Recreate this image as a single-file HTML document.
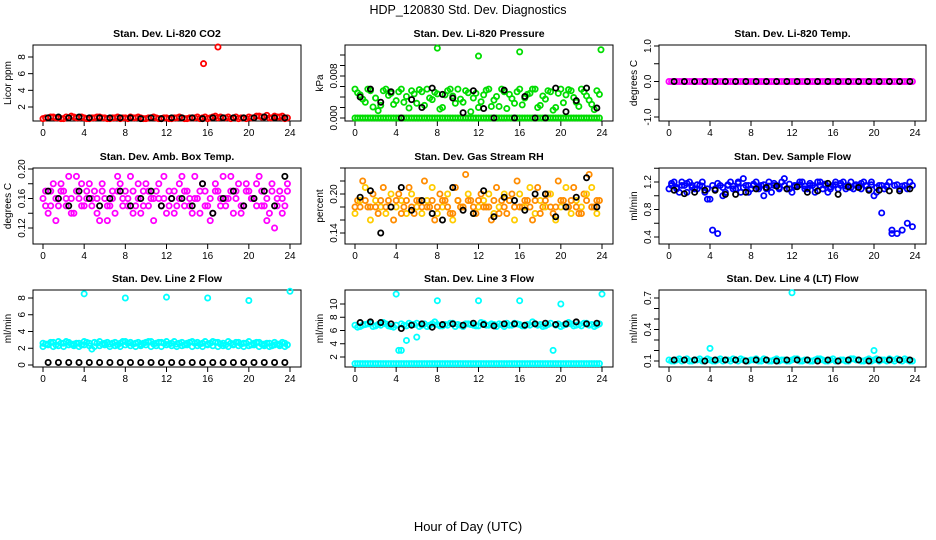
<!DOCTYPE html>
<html><head><meta charset="utf-8"><style>
body{margin:0;background:#fff;}
svg{display:block;font-family:"Liberation Sans",sans-serif;}
</style></head><body>
<svg id="c" width="936" height="540" viewBox="0 0 936 540">
<text x="468" y="14" text-anchor="middle" font-size="12.5">HDP_120830  Std. Dev. Diagnostics</text>
<text x="468" y="531" text-anchor="middle" font-size="13">Hour of Day (UTC)</text>
</svg>
<script>
// ---- data (hours: colored series at i*0.5+0.25 (or i*0.5 for 2nd set), black series at i+0.5) ----
const xTicks = [0,4,8,12,16,20,24];
const co2Vals = [0.7,0.8,0.7,0.6,0.8,0.9,0.7,0.8,0.6,0.7,0.8,0.7,0.6,0.7,0.8,0.7,0.6,0.7,0.8,0.6,0.7,0.8,0.6,0.7,0.6,0.7,0.8,0.6,0.7,0.7,0.6,0.8,0.7,0.9,0.8,0.7,0.6,0.8,0.7,0.6,0.7,0.9,0.8,1.0,0.7,0.8,0.9,0.7];
const co2Vals2 = [0.6,0.7,0.8,0.7,0.6,0.7,0.8,0.7,0.7,0.6,0.7,0.8,0.7,0.6,0.7,0.6,0.7,0.8,0.7,0.7,0.6,0.7,0.7,0.6,0.7,0.6,0.7,0.7,0.6,0.7,0.8,0.7,0.6,0.8,0.7,0.7,0.8,0.7,0.6,0.7,0.8,0.7,0.9,0.8,0.7,0.9,0.8,0.6];
const co2Blk = [0.7,0.8,0.7,0.8,0.7,0.7,0.7,0.7,0.7,0.6,0.7,0.6,0.7,0.7,0.7,0.6,0.7,0.7,0.7,0.7,0.7,0.8,0.7,0.7];
const co2Out = [[15.6,7.2],[17.0,9.2]];
const presVals = [0.0048,0.0036,0.0055,0.0021,0.0014,0.0052,0.0043,0.0026,0.0050,0.0030,0.0019,0.0046,0.0054,0.0024,0.0038,0.0049,0.0017,0.0044,0.0055,0.0028,0.0036,0.0052,0.0012,0.0047,0.0031,0.0053,0.0022,0.0041,0.0055,0.0018,0.0037,0.0050,0.0025,0.0045,0.0055,0.0020,0.0042,0.0052,0.0015,0.0047,0.0029,0.0054,0.0039,0.0022,0.0050,0.0034,0.0016,0.0045];
const presVals2 = [0.0055,0.0044,0.0030,0.0052,0.0038,0.0024,0.0055,0.0047,0.0033,0.0055,0.0041,0.0052,0.0028,0.0050,0.0055,0.0035,0.0046,0.0020,0.0052,0.0042,0.0055,0.0030,0.0048,0.0038,0.0020,0.0044,0.0055,0.0034,0.0022,0.0050,0.0045,0.0028,0.0055,0.0038,0.0047,0.0055,0.0024,0.0036,0.0050,0.0020,0.0055,0.0044,0.0052,0.0030,0.0055,0.0042,0.0026,0.0052];
const presZero = [0,0,0,0,0,0,0,0,0,0,0,0,0,0,0,0,0,0,0,0,0,0,0,0,0,0,0,0,0,0,0,0,0,0,0,0,0,0,0,0,0,0,0,0,0,0,0,0];
const presBlk = [0.0040,0.0055,0.0030,0.0050,0.0,0.0035,0.0020,0.0057,0.0045,0.0038,0.0010,0.0052,0.0018,0.0,0.0053,0.0,0.0041,0.0,0.0,0.0057,0.0012,0.0033,0.0057,0.0019];
const presOut = [[8.0,0.0133],[12.0,0.0118],[16.0,0.0126],[23.9,0.0130]];
const tempVals = [0,0,0,0,0,0,0,0,0,0,0,0,0,0,0,0,0,0,0,0,0,0,0,0,0,0,0,0,0,0,0,0,0,0,0,0,0,0,0,0,0,0,0,0,0,0,0,0];
const tempBlk = [0,0,0,0,0,0,0,0,0,0,0,0,0,0,0,0,0,0,0,0,0,0,0,0];
const ambVals = [0.15,0.17,0.13,0.18,0.16,0.14,0.19,0.15,0.17,0.16,0.14,0.18,0.13,0.17,0.19,0.15,0.16,0.14,0.18,0.17,0.15,0.13,0.16,0.19,0.17,0.14,0.18,0.15,0.16,0.19,0.14,0.17,0.13,0.18,0.16,0.15,0.19,0.17,0.14,0.18,0.16,0.15,0.17,0.13,0.18,0.16,0.14,0.17];
const ambVals2 = [0.16,0.14,0.18,0.15,0.17,0.19,0.14,0.16,0.15,0.18,0.17,0.13,0.16,0.15,0.14,0.18,0.17,0.19,0.15,0.14,0.18,0.16,0.17,0.15,0.14,0.16,0.15,0.19,0.17,0.14,0.16,0.18,0.15,0.14,0.17,0.19,0.16,0.14,0.18,0.15,0.17,0.16,0.19,0.15,0.14,0.12,0.17,0.15];
const ambVals3 = [0.17,0.15,0.16,0.17,0.15,0.16,0.17,0.18,0.16,0.15,0.16,0.17,0.15,0.16,0.17,0.16,0.15,0.17,0.16,0.15,0.17,0.16,0.18,0.16,0.15,0.17,0.16,0.17,0.15,0.16,0.17,0.15,0.16,0.17,0.15,0.16,0.17,0.16,0.15,0.17,0.16,0.18,0.15,0.16,0.17,0.15,0.16,0.18];
const ambBlk = [0.17,0.16,0.15,0.17,0.16,0.15,0.16,0.17,0.15,0.16,0.17,0.15,0.16,0.16,0.15,0.18,0.14,0.16,0.17,0.15,0.16,0.17,0.15,0.19];
const rhVals = [0.19,0.22,0.18,0.20,0.17,0.21,0.19,0.16,0.20,0.18,0.21,0.17,0.19,0.22,0.18,0.16,0.20,0.19,0.17,0.21,0.18,0.23,0.19,0.17,0.20,0.18,0.16,0.21,0.19,0.17,0.20,0.22,0.18,0.19,0.16,0.21,0.18,0.20,0.17,0.22,0.19,0.18,0.21,0.17,0.20,0.23,0.18,0.19];
const rhVals2 = [0.17,0.19,0.21,0.16,0.19,0.18,0.17,0.20,0.18,0.19,0.17,0.20,0.18,0.17,0.19,0.21,0.17,0.18,0.20,0.16,0.19,0.18,0.20,0.17,0.18,0.19,0.20,0.17,0.18,0.20,0.19,0.16,0.20,0.18,0.21,0.17,0.19,0.18,0.20,0.16,0.18,0.21,0.17,0.19,0.18,0.20,0.21,0.17];
const rhVals3 = [0.18,0.18,0.19,0.18,0.18,0.19,0.18,0.18,0.19,0.17,0.19,0.18,0.19,0.18,0.18,0.19,0.18,0.19,0.18,0.17,0.19,0.18,0.19,0.18,0.19,0.18,0.18,0.19,0.17,0.18,0.19,0.18,0.18,0.19,0.18,0.19,0.17,0.19,0.18,0.18,0.19,0.18,0.19,0.18,0.17,0.19,0.18,0.19];
const rhBlk = [0.195,0.205,0.14,0.18,0.21,0.175,0.19,0.17,0.16,0.21,0.175,0.17,0.205,0.165,0.195,0.19,0.175,0.20,0.20,0.165,0.18,0.195,0.225,0.18];
const flowVals = [1.15,1.10,1.20,1.05,1.15,1.10,1.20,0.95,0.50,0.45,1.00,1.15,1.10,1.20,1.25,1.05,1.15,1.10,1.00,1.20,1.15,1.10,1.25,1.10,1.15,1.20,1.10,1.15,1.05,1.20,1.15,1.10,1.20,1.15,1.10,1.20,1.15,1.10,1.15,1.20,1.05,0.75,1.15,0.50,0.45,0.50,1.10,0.55];
const flowVals2 = [1.10,1.20,1.05,1.15,1.20,1.10,1.15,1.05,0.95,1.10,1.15,1.05,1.20,1.10,1.05,1.15,1.10,1.20,1.15,1.10,1.05,1.15,1.20,1.10,1.05,1.15,1.20,1.10,1.15,1.20,1.10,1.05,1.15,1.10,1.20,1.15,1.10,1.15,1.20,1.10,1.00,1.15,1.10,1.20,1.15,1.10,1.15,1.20];
const flowVals3 = [1.18,1.12,1.15,1.18,1.12,1.16,1.14,1.10,1.15,1.18,1.12,1.16,1.14,1.18,1.12,1.15,1.17,1.13,1.16,1.14,1.18,1.12,1.15,1.17,1.13,1.16,1.14,1.18,1.12,1.15,1.17,1.13,1.16,1.18,1.14,1.12,1.16,1.18,1.14,1.16,1.12,1.15,1.13,0.45,1.16,1.14,0.60,1.15];
const flowBlk = [1.08,1.03,1.05,1.08,1.08,1.02,1.02,1.05,1.10,1.12,1.14,1.10,1.13,1.05,1.07,1.18,1.02,1.13,1.12,1.08,1.08,1.07,1.07,1.10];
const l2Vals = [2.5,2.7,2.4,2.6,2.8,2.5,2.6,2.4,2.7,1.9,2.6,2.5,2.7,2.6,2.4,2.8,2.6,2.5,2.7,2.6,2.8,2.5,2.7,2.6,2.5,2.8,2.6,2.4,2.7,2.6,2.5,2.8,2.6,2.7,2.5,2.4,2.6,2.7,2.5,2.6,2.4,2.7,2.5,2.6,2.3,2.5,2.7,2.4];
const l2Vals2 = [2.2,2.4,2.2,2.3,2.2,2.4,2.3,2.2,2.4,2.3,2.2,2.3,2.4,2.2,2.3,2.2,2.4,2.3,2.2,2.3,2.4,2.2,2.3,2.2,2.4,2.3,2.2,2.3,2.4,2.2,2.3,2.2,2.4,2.3,2.2,2.3,2.2,2.4,2.3,2.2,2.3,2.4,2.2,2.3,2.2,2.4,2.3,2.2];
const l2Vals3 = [2.6,2.5,2.7,2.8,2.6,2.7,2.5,2.6,2.8,2.6,2.7,2.8,2.6,2.5,2.7,2.6,2.8,2.7,2.6,2.5,2.7,2.8,2.6,2.7,2.8,2.6,2.5,2.7,2.6,2.8,2.7,2.6,2.5,2.8,2.7,2.6,2.8,2.5,2.7,2.6,2.8,2.6,2.7,2.5,2.6,2.7,2.5,2.6];
const l2Blk = [0.3,0.3,0.3,0.3,0.3,0.3,0.3,0.3,0.3,0.3,0.3,0.3,0.3,0.3,0.3,0.3,0.3,0.3,0.3,0.3,0.3,0.3,0.3,0.3];
const l2Out = [[4.0,8.5],[8.0,8.0],[12.0,8.1],[16.0,8.0],[20.0,7.7],[24.0,8.8]];
const l3Vals = [6.5,6.8,7.0,6.6,6.9,7.2,6.7,6.5,3.0,6.8,7.1,6.9,6.6,7.0,6.8,7.3,6.7,6.9,7.1,6.6,6.8,7.0,6.9,6.7,7.2,6.8,7.0,6.6,6.9,7.1,6.8,7.0,6.7,6.9,7.3,6.8,6.6,6.9,3.0,7.0,6.8,7.2,6.7,6.9,7.1,6.8,6.6,7.0];
const l3Vals2 = [6.8,6.6,6.9,7.1,6.7,6.8,7.0,6.6,6.8,7.0,6.7,6.9,7.1,6.8,6.6,7.0,6.9,6.7,6.8,7.1,6.9,6.6,7.0,6.8,6.7,7.1,6.8,6.9,7.0,6.6,6.8,7.1,6.9,6.7,6.8,7.0,6.9,6.7,7.1,6.8,6.6,6.9,7.0,6.8,6.7,7.1,6.9,6.8];
const l3Low = [1.0,1.0,1.0,1.0,1.0,1.0,1.0,1.0,1.0,1.0,1.0,1.0,1.0,1.0,1.0,1.0,1.0,1.0,1.0,1.0,1.0,1.0,1.0,1.0,1.0,1.0,1.0,1.0,1.0,1.0,1.0,1.0,1.0,1.0,1.0,1.0,1.0,1.0,1.0,1.0,1.0,1.0,1.0,1.0,1.0,1.0,1.0,1.0];
const l3Blk = [7.2,7.3,7.2,7.0,6.3,6.8,7.0,6.5,6.9,7.0,6.8,7.1,6.9,6.7,7.0,7.0,6.8,7.0,7.1,6.9,7.0,7.3,7.0,7.1];
const l3Out = [[4.0,11.5],[8.0,10.5],[12.0,10.5],[16.0,10.5],[20.0,10.0],[24.0,11.5],[4.5,3.0],[5.0,4.5],[6.0,5.0]];
const l4Vals = [0.10,0.11,0.10,0.12,0.10,0.11,0.10,0.12,0.10,0.11,0.10,0.11,0.12,0.10,0.11,0.10,0.11,0.10,0.12,0.10,0.11,0.10,0.11,0.10,0.12,0.10,0.11,0.10,0.11,0.12,0.10,0.11,0.10,0.11,0.10,0.12,0.11,0.10,0.11,0.10,0.12,0.11,0.10,0.11,0.12,0.10,0.11,0.10];
const l4Vals2 = [0.11,0.10,0.12,0.11,0.10,0.11,0.12,0.10,0.11,0.10,0.12,0.11,0.10,0.11,0.12,0.10,0.11,0.12,0.10,0.11,0.10,0.12,0.11,0.10,0.11,0.12,0.10,0.11,0.10,0.12,0.11,0.10,0.12,0.10,0.11,0.10,0.12,0.11,0.10,0.12,0.11,0.10,0.11,0.12,0.10,0.11,0.12,0.10];
const l4Blk = [0.11,0.11,0.11,0.10,0.11,0.11,0.11,0.10,0.11,0.11,0.10,0.11,0.11,0.11,0.10,0.11,0.10,0.11,0.11,0.10,0.11,0.11,0.11,0.11];
const l4Out = [[12.0,0.75],[4.0,0.22],[20.0,0.20]];

const NS = 'http://www.w3.org/2000/svg';
const svg = document.getElementById('c');
function mk(tag, attrs, parent){const e=document.createElementNS(NS,tag);for(const k in attrs)e.setAttribute(k,attrs[k]);(parent||svg).appendChild(e);return e;}

const cols=[[33,301],[345,613],[659,926]];
const rows=[[45,121],[168,244],[290,367]];
const panels=[
 {name:'co2',title:'Stan. Dev. Li-820 CO2',ylab:'Licor ppm',r:0,c:0,anch:[[2,107],[8,57]],ticks:[2,4,6,8],lab:['2','4','6','8'],series:[[co2Vals,'#ff0000'],[co2Vals2,'#ff0000',3],[co2Blk,'#000',1],[co2Out,'#ff0000',2]]},
 {name:'pressure',title:'Stan. Dev. Li-820 Pressure',ylab:'kPa',r:0,c:1,anch:[[0,118],[0.008,76]],ticks:[0,0.002,0.004,0.006,0.008,0.010,0.012],lab:['0.000','','','','0.008','',''],series:[[presZero,'#00dd00'],[presZero,'#00dd00',3],[presVals,'#00dd00'],[presVals2,'#00dd00',3],[presBlk,'#000',1],[presOut,'#00dd00',2]]},
 {name:'temp',title:'Stan. Dev. Li-820 Temp.',ylab:'degrees C',r:0,c:2,anch:[[-1,117],[1,46]],ticks:[-1,-0.5,0,0.5,1],lab:['-1.0','','0.0','','1.0'],series:[[tempVals,'#ff00ff'],[tempVals,'#ff00ff',3],[tempBlk,'#000',1]]},
 {name:'ambbox',title:'Stan. Dev. Amb. Box Temp.',ylab:'degrees C',r:1,c:0,anch:[[0.12,228],[0.20,169]],ticks:[0.12,0.14,0.16,0.18,0.20],lab:['0.12','','0.16','','0.20'],series:[[ambVals,'#ff00ff'],[ambVals2,'#ff00ff',3],[ambVals3,'#ff00ff'],[ambBlk,'#000',1]]},
 {name:'rh',title:'Stan. Dev. Gas Stream RH',ylab:'percent',r:1,c:1,anch:[[0.14,233],[0.20,194]],ticks:[0.14,0.16,0.18,0.20,0.22,0.24],lab:['0.14','','','0.20','',''],series:[[rhVals,'#ff8c00'],[rhVals2,'#ffcc00',3],[rhVals3,'#ff8c00',3],[rhBlk,'#000',1]]},
 {name:'sampleflow',title:'Stan. Dev. Sample Flow',ylab:'ml/min',r:1,c:2,anch:[[0.4,237],[1.2,182]],ticks:[0.4,0.6,0.8,1.0,1.2,1.4],lab:['0.4','','0.8','','1.2',''],series:[[flowVals,'#0000ff'],[flowVals2,'#0000ff',3],[flowVals3,'#0000ff'],[flowBlk,'#000',1]]},
 {name:'line2',title:'Stan. Dev. Line 2 Flow',ylab:'ml/min',r:2,c:0,anch:[[0,365],[8,298]],ticks:[0,2,4,6,8],lab:['0','2','4','6','8'],series:[[l2Vals,'#00ffff'],[l2Vals2,'#00ffff',3],[l2Vals3,'#00ffff',3],[l2Blk,'#000',1],[l2Out,'#00ffff',2]]},
 {name:'line3',title:'Stan. Dev. Line 3 Flow',ylab:'ml/min',r:2,c:1,anch:[[2,357],[10,304]],ticks:[2,4,6,8,10],lab:['2','4','6','8','10'],series:[[l3Vals,'#00ffff'],[l3Vals2,'#00ffff',3],[l3Low,'#00ffff'],[l3Low,'#00ffff',3],[l3Blk,'#000',1],[l3Out,'#00ffff',2]]},
 {name:'line4',title:'Stan. Dev. Line 4 (LT) Flow',ylab:'ml/min',r:2,c:2,anch:[[0.1,361],[0.7,298]],ticks:[0.1,0.2,0.3,0.4,0.5,0.6,0.7],lab:['0.1','','','0.4','','','0.7'],series:[[l4Vals,'#00ffff'],[l4Vals2,'#00ffff',3],[l4Blk,'#000',1],[l4Out,'#00ffff',2]]}
];

panels.forEach(p=>{
  const [L,R]=cols[p.c],[T,B]=rows[p.r];
  const g=mk('g',{});
  
  
  const xs=h=>(L+10)+h*(R-L-21)/24;
  const [[v1,y1],[v2,y2]]=p.anch;
  const ys=v=>y1+(v-v1)*(y2-y1)/(v2-v1);
  const t=mk('text',{x:(L+R)/2,y:T-8,'text-anchor':'middle','font-size':'10.5','font-weight':'bold'},g);
  t.textContent=p.title;
  
  
  const yl=mk('text',{x:0,y:0,transform:`translate(${L-22},${(T+B)/2}) rotate(-90)`,'text-anchor':'middle','font-size':'10'},g);
  yl.textContent=p.ylab;
  
  
  const box=mk('rect',{x:L,y:T,width:R-L,height:B-T,fill:'none',stroke:'#000','stroke-width':1},g);
  
  
  xTicks.forEach(h=>{
    mk('line',{x1:xs(h),x2:xs(h),y1:B,y2:B+5,stroke:'#000'},g);
    const tx=mk('text',{x:xs(h),y:B+15,'text-anchor':'middle','font-size':'10'},g);
    tx.textContent=h;
    
    
  });
  p.ticks.forEach((v,i)=>{
    const y=ys(v); if(y<T-1||y>B+1) return;
    mk('line',{x1:L-5,x2:L,y1:y,y2:y,stroke:'#000'},g);
    if(p.lab[i]){
      const ty=mk('text',{x:0,y:0,transform:`translate(${L-8},${y}) rotate(-90)`,'text-anchor':'middle','font-size':'10'},g);
      ty.textContent=p.lab[i];
      
      
    }
  });
  p.series.forEach(([arr,col,kind])=>{
    arr.forEach((d,i)=>{
      let h,v;
      if(kind===2){h=d[0];v=d[1];} else if(kind===1){h=i+0.5;v=d;} else if(kind===3){h=i*0.5;v=d;} else {h=i*0.5+0.25;v=d;}
      const pt=mk('circle',{cx:xs(h),cy:ys(v),r:2.6,fill:'none',stroke:col,'stroke-width':1.8},g);
      
      
    });
  });
});
</script>
</body></html>
